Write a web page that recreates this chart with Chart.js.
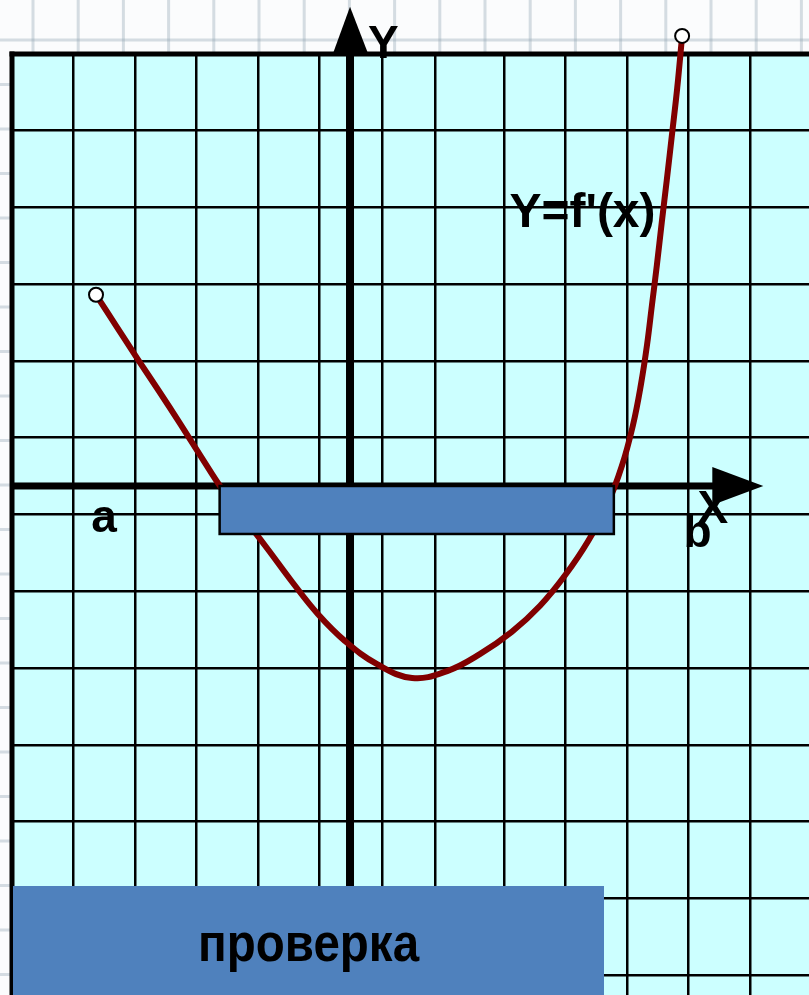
<!DOCTYPE html>
<html>
<head>
<meta charset="utf-8">
<script src="https://cdn.jsdelivr.net/npm/chart.js@4.4.1/dist/chart.umd.min.js"></script>
<style>
  html, body { margin: 0; padding: 0; background: #fbfcfd; }
  #wrap { position: relative; width: 809px; height: 995px; overflow: hidden; }
  #check {
    position: absolute; left: 13px; top: 886px; width: 591px; height: 115px;
    background: #4f81bd; color: #000;
    font: bold 54px "Liberation Sans", Arial, sans-serif;
    text-align: center; line-height: 112px;
  }
  #check span { display: inline-block; transform: scaleX(0.88); }
</style>
</head>
<body>
<div id="wrap">
  <canvas id="graph" width="809" height="995"></canvas>
  <div id="check"><span>проверка</span></div>
</div>
<script>
// curve Y = f'(x) (one unit = one grid cell)
const curveX = [-4.13, -3.79, -3.45, -3.11, -2.76, -2.42, -2.08, -1.71, -1.33, -0.94, -0.52, -0.08,
                0.44, 1.01, 1.58, 2.11, 2.63, 3.09, 3.50, 3.87, 4.18, 4.42, 4.60, 4.73, 4.83, 4.91,
                4.99, 5.07, 5.15, 5.24, 5.32, 5.40];
const curveY = [2.49, 2.07, 1.65, 1.24, 0.81, 0.38, -0.04, -0.43, -0.83, -1.25, -1.67, -2.02,
                -2.32, -2.50, -2.41, -2.19, -1.90, -1.56, -1.16, -0.72, -0.25, 0.26, 0.79, 1.32, 1.84, 2.36,
                2.88, 3.44, 3.98, 4.61, 5.18, 5.86];

// grid lines of the squared panel
const xGrid = [-4.5, -3.5, -2.5, -1.5, -0.5, 0.52, 1.38, 2.5, 3.5, 4.5, 5.5, 6.5];
const yGrid = [4.63, 3.63, 2.63, 1.63, 0.63, -0.37, -1.37, -2.37, -3.37, -4.37, -5.37, -6.37];

// interval where f'(x) < 0 (covered by the answer box)
const negFrom = -2.12;
const negTo = 4.29;
const boxDepth = -0.625;

const labels = [
  { text: 'Y', x: 0.54, y: 5.57 },
  { text: "Y=f'(x)", x: 3.78, y: 3.37 },
  { text: 'a', x: -4.0, y: -0.6 },
  { text: 'b', x: 5.65, y: -0.79 },
  { text: 'X', x: 5.9, y: -0.48 }
];

const sheet = {
  id: 'sheet',
  beforeDraw(chart) {
    const ctx = chart.ctx, a = chart.chartArea;
    ctx.save();
    ctx.fillStyle = '#fbfcfd';
    ctx.fillRect(0, 0, chart.width, chart.height);
    // faint paper squares around the panel
    ctx.strokeStyle = 'rgba(140,160,175,0.35)';
    ctx.lineWidth = 3;
    for (let x = 33; x < chart.width; x += 45.2) {
      ctx.beginPath(); ctx.moveTo(x, 0); ctx.lineTo(x, chart.height); ctx.stroke();
    }
    for (let y = 40; y < chart.height; y += 44.5) {
      ctx.beginPath(); ctx.moveTo(0, y); ctx.lineTo(chart.width, y); ctx.stroke();
    }
    ctx.fillStyle = '#ccffff';
    ctx.fillRect(a.left, a.top, a.right - a.left, a.bottom - a.top);
    ctx.restore();
  },
  beforeDatasetsDraw(chart) {
    const ctx = chart.ctx, a = chart.chartArea;
    const xs = chart.scales.x, ys = chart.scales.y;
    const x0 = xs.getPixelForValue(0), y0 = ys.getPixelForValue(0);
    ctx.save();
    ctx.fillStyle = '#000';
    // panel border (top and left)
    ctx.fillRect(a.left - 2.5, a.top - 2.5, a.right - a.left + 3, 5);
    ctx.fillRect(a.left - 2.5, a.top - 2.5, 5, a.bottom - a.top + 3);
    // x axis with arrow
    const xTip = xs.getPixelForValue(6.72);
    ctx.fillRect(a.left, y0 - 3.5, xTip - 50 - a.left, 7);
    ctx.beginPath();
    ctx.moveTo(xTip, y0); ctx.lineTo(xTip - 51, y0 - 19); ctx.lineTo(xTip - 51, y0 + 19);
    ctx.closePath(); ctx.fill();
    // y axis with arrow
    const yTip = ys.getPixelForValue(6.24);
    ctx.fillRect(x0 - 4, yTip + 46, 8, a.bottom - yTip - 46);
    ctx.beginPath();
    ctx.moveTo(x0, yTip); ctx.lineTo(x0 - 17.5, yTip + 48); ctx.lineTo(x0 + 18.5, yTip + 48);
    ctx.closePath(); ctx.fill();
    ctx.restore();
  },
  afterDatasetsDraw(chart) {
    const ctx = chart.ctx;
    const xs = chart.scales.x, ys = chart.scales.y;
    ctx.save();
    // open end points of the curve (the upper one lies outside the panel)
    const pts = chart.getDatasetMeta(0).data;
    [pts[0], pts[pts.length - 1]].forEach(p => {
      ctx.beginPath();
      ctx.arc(p.x, p.y, 7, 0, Math.PI * 2);
      ctx.fillStyle = '#fff';
      ctx.fill();
      ctx.lineWidth = 2;
      ctx.strokeStyle = '#000';
      ctx.stroke();
    });
    const l = xs.getPixelForValue(negFrom), r = xs.getPixelForValue(negTo);
    const t = ys.getPixelForValue(0), b = ys.getPixelForValue(boxDepth);
    ctx.fillStyle = '#4f81bd';
    ctx.fillRect(l, t, r - l, b - t);
    ctx.strokeStyle = '#000';
    ctx.lineWidth = 2.5;
    ctx.strokeRect(l, t, r - l, b - t);
    ctx.fillStyle = '#000';
    ctx.textAlign = 'center';
    ctx.textBaseline = 'alphabetic';
    labels.forEach(lb => {
      ctx.font = (lb.text.length > 1 ? 'bold 48px' : 'bold 46px') + ' "Liberation Sans", Arial, sans-serif';
      ctx.fillText(lb.text, xs.getPixelForValue(lb.x), ys.getPixelForValue(lb.y));
    });
    ctx.restore();
  }
};

const points = curveX.map((x, i) => ({ x: x, y: curveY[i] }));

new Chart(document.getElementById('graph').getContext('2d'), {
  type: 'line',
  data: {
    datasets: [{
      data: points,
      borderColor: '#800000',
      borderWidth: 6,
      tension: 0.4,
      clip: false,
      pointRadius: 0
    }]
  },
  options: {
    responsive: false,
    animation: false,
    layout: { autoPadding: false, padding: { left: 12, top: 54, right: 0, bottom: 0 } },
    plugins: { legend: { display: false }, tooltip: { enabled: false } },
    scales: {
      x: {
        type: 'linear',
        min: -5.496, max: 7.463,
        afterBuildTicks: s => { s.ticks = xGrid.map(v => ({ value: v })); },
        ticks: { display: false },
        border: { display: false },
        grid: { color: '#000', lineWidth: 2.5, drawTicks: false }
      },
      y: {
        type: 'linear',
        min: -6.628, max: 5.625,
        afterBuildTicks: s => { s.ticks = yGrid.map(v => ({ value: v })); },
        ticks: { display: false },
        border: { display: false },
        grid: { color: '#000', lineWidth: 2.5, drawTicks: false }
      }
    }
  },
  plugins: [sheet]
});
</script>
</body>
</html>
